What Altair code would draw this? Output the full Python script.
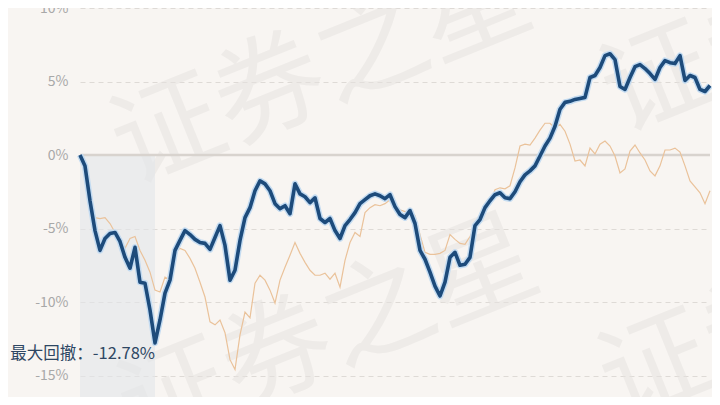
import altair as alt
import pandas as pd

# Cumulative return (%) of the fund (blue) and the benchmark (orange), one value per trading day
fund = [0.00, -0.74, -3.11, -5.14, -6.49, -5.68, -5.34, -5.27, -5.88, -6.96,
        -7.70, -6.28, -8.65, -8.72, -10.54, -12.78, -11.22, -9.39, -8.51, -6.49,
        -5.81, -5.14, -5.41, -5.74, -5.95, -6.01, -6.42, -5.61, -4.80, -6.15,
        -8.51, -7.84, -5.81, -4.26, -3.58, -2.43, -1.76, -1.96, -2.43, -3.31,
        -3.65, -3.45, -3.99, -1.96, -2.64, -2.84, -3.24, -2.91, -4.32, -4.59,
        -4.32, -5.14, -5.68, -4.80, -4.39, -3.92, -3.31, -3.04, -2.77, -2.64,
        -2.77, -2.97, -2.70, -3.51, -4.05, -4.26, -3.78, -4.66, -6.49, -7.09,
        -7.97, -8.92, -9.59, -8.65, -6.96, -6.62, -7.50, -7.43, -6.96, -4.80,
        -4.39, -3.58, -3.11, -2.70, -2.57, -2.91, -2.97, -2.50, -1.82, -1.35,
        -1.08, -0.74, -0.07, 0.61, 1.15, 1.96, 3.11, 3.58, 3.65, 3.78,
        3.85, 3.92, 5.27, 5.41, 5.95, 6.76, 6.89, 6.49, 4.66, 4.46,
        5.27, 6.01, 6.15, 5.88, 5.54, 5.14, 5.95, 6.42, 6.28, 6.22,
        6.76, 5.07, 5.41, 5.27, 4.46, 4.32, 4.73]

bench = [0.00, -0.95, -2.43, -4.26, -4.32, -4.26, -4.66, -5.27, -5.81, -6.35,
         -5.68, -5.54, -6.49, -7.16, -7.97, -9.19, -9.32, -8.31, -8.51, -6.62,
         -6.35, -6.49, -7.03, -7.70, -8.65, -9.66, -11.35, -11.55, -11.22, -12.09,
         -13.92, -14.59, -12.23, -10.68, -11.08, -8.72, -8.18, -8.51, -9.19, -10.07,
         -8.51, -7.64, -6.82, -5.95, -6.69, -7.30, -7.84, -8.18, -8.18, -8.04,
         -8.45, -8.04, -8.99, -7.16, -5.95, -5.27, -5.54, -3.92, -3.58, -3.38,
         -3.45, -3.31, -3.04, -3.38, -3.72, -3.85, -3.78, -4.12, -5.41, -6.62,
         -6.76, -6.76, -6.69, -6.49, -5.41, -5.74, -6.01, -6.08, -5.54, -4.93,
         -4.46, -3.92, -3.31, -2.36, -2.23, -2.30, -2.09, -0.88, 0.61, 0.74,
         0.68, 1.15, 1.69, 2.16, 2.16, 1.82, 2.09, 1.62, 0.74, -0.41,
         -0.34, -0.74, 0.47, 0.07, 0.74, 0.95, 0.61, -0.07, -1.22, -0.95,
         0.27, 0.68, 0.14, -0.34, -1.08, -1.42, -0.74, 0.34, 0.34, 0.47,
         0.20, -0.74, -1.76, -2.16, -2.57, -3.31, -2.43]

y_ticks = [-15, -10, -5, 0, 5, 10]
Y_MIN, Y_MAX = -16.46, 10

watermark_text = ["证券之星", "证券之星", "证券之星", "证券之星"]
watermark_x = [242, 249, 730, 732]
watermark_y = [64, 328, 300, 12]

days = list(range(len(fund)))
df = pd.DataFrame({"day": days, "fund": fund, "bench": bench})

trough = int(df["fund"].idxmin())
peak = int(df["fund"].iloc[: trough + 1].idxmax())
dd = fund[trough] - fund[peak]
ann = pd.DataFrame({"day": [trough], "v": [fund[trough]],
                    "label": [f"最大回撤：{dd:.2f}%"]})
shade = pd.DataFrame({"x": [peak], "x2": [trough], "y": [fund[peak]], "y2": [Y_MIN]})
wm = pd.DataFrame({"t": watermark_text, "px": watermark_x, "py": watermark_y})
zero = pd.DataFrame({"y": [0]})

W, H = 630, 389
xs = alt.Scale(domain=[0, len(fund) - 1], nice=False, zero=False)
ys = alt.Scale(domain=[Y_MIN, Y_MAX], nice=False, zero=False)
FONT = "Noto Sans CJK SC"

yaxis = alt.Axis(values=y_ticks, labelExpr="datum.value + '%'", grid=True,
                 gridDash=[5, 4], gridColor="#dedad6", gridWidth=1,
                 domain=False, ticks=False, labelColor="#a8a8a8",
                 labelFontSize=14, labelPadding=12, labelFont=FONT, title=None)

watermark = alt.Chart(wm).mark_text(
    angle=338, fontSize=110, color="#e6e3e0", opacity=0.55, font=FONT
).encode(x=alt.X("px:Q", scale=None), y=alt.Y("py:Q", scale=None), text="t:N")

grid = alt.Chart(df).mark_line(opacity=0).encode(
    x=alt.X("day:Q", scale=xs, axis=None),
    y=alt.Y("fund:Q", scale=ys, axis=yaxis),
)

zero_rule = alt.Chart(zero).mark_rule(color="#d8d3ce", strokeWidth=2.5).encode(
    y=alt.Y("y:Q", scale=ys)
)

shade_rect = alt.Chart(shade).mark_rect(color="#e3e6ea", opacity=0.6).encode(
    x=alt.X("x:Q", scale=xs), x2="x2:Q",
    y=alt.Y("y:Q", scale=ys), y2="y2:Q",
)

bench_line = alt.Chart(df).mark_line(color="#eac29a", strokeWidth=1.2).encode(
    x=alt.X("day:Q", scale=xs), y=alt.Y("bench:Q", scale=ys)
)

fund_halo = alt.Chart(df).mark_line(color="#c3dbf1", strokeWidth=6.5,
                                    strokeJoin="round").encode(
    x=alt.X("day:Q", scale=xs), y=alt.Y("fund:Q", scale=ys)
)
fund_line = alt.Chart(df).mark_line(color="#1d4b7b", strokeWidth=3.6,
                                    strokeJoin="round").encode(
    x=alt.X("day:Q", scale=xs), y=alt.Y("fund:Q", scale=ys)
)

label = alt.Chart(ann).mark_text(
    align="right", baseline="top", dy=3, dx=0, fontSize=16.5, color="#2e4763", font=FONT
).encode(x=alt.X("day:Q", scale=xs), y=alt.Y("v:Q", scale=ys), text="label:N")

chart = alt.layer(
    grid, watermark, shade_rect, zero_rule, bench_line, fund_halo, fund_line, label
).properties(
    width=W, height=H,
    autosize=alt.AutoSizeParams(type="none"),
    padding={"left": 72, "top": 0, "right": 2, "bottom": 0},
    background="#f8f5f2",
).configure_view(stroke=None)

chart.save("out.html", embed_options={"renderer": "svg", "actions": False})
